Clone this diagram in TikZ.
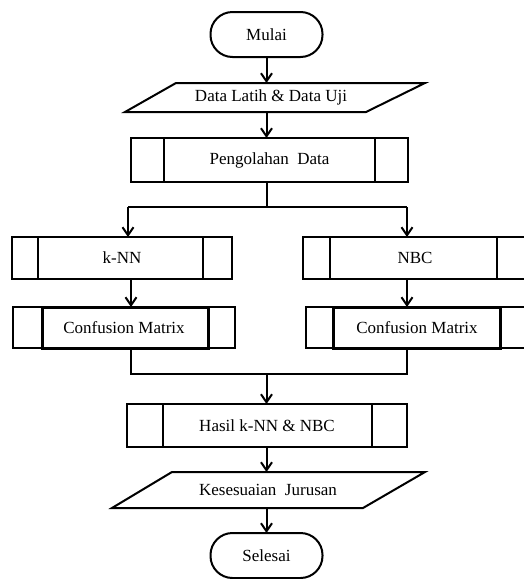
\documentclass[tikz,border=0pt]{standalone}
\usepackage{fontspec}
\setmainfont{Liberation Serif}
\usetikzlibrary{arrows.meta,calc}
\begin{document}
\begin{tikzpicture}[x=1pt,y=-1pt,
  lw/.style={line width=2pt},
  base/.style={lw, font=\fontsize{17}{20}\selectfont, inner sep=0pt, outer sep=0pt, align=center},
  term/.style={base, draw, rounded corners=22pt, minimum width=112pt, minimum height=45pt},
  iotext/.style={base, minimum height=#1},
  procbox/.style={base, draw},
  arr/.style={lw, -{Straight Barb[length=8pt,width=11pt]}}
  ]
\useasboundingbox (0,0) rectangle (524,579);
\clip (0,0) rectangle (524,579);

% nodes
\node[term] (mulai) at (266.5,34.5) {Mulai};
\node[iotext=29pt] (data) at (271,97.5) {Data Latih \& Data Uji};
\draw[lw] (176,83) -- (425,83) -- (366,112) -- (125,112) -- cycle;

\node[procbox, minimum width=277pt, minimum height=44pt] (peng) at (269.5,160) {Pengolahan\ \ Data};
\node[procbox, minimum width=220pt, minimum height=42pt] (knn) at (122,258) {k-NN};
\node[procbox, minimum width=224pt, minimum height=42pt] (nbc) at (415,258) {NBC};
\node[procbox, minimum width=222pt, minimum height=41pt] (cmA) at (124,327.5) {Confusion Matrix};
\node[procbox, minimum width=222pt, minimum height=41pt] (cmB) at (417,327.5) {Confusion Matrix};
\node[procbox, minimum width=280pt, minimum height=43pt] (hasil) at (267,425.5) {Hasil k-NN \& NBC};
\node[iotext=36pt] (kes) at (268,490) {Kesesuaian\ \ Jurusan};
\draw[lw] (172,472) -- (425,472) -- (363,508) -- (112,508) -- cycle;
\node[term] (selesai) at (266.5,555.5) {Selesai};

% inner lines of predefined-process boxes
\foreach \n/\lo/\ro in {peng/33/33, knn/26/29, nbc/27/30, hasil/36/35}{
  \draw[lw] ([xshift=\lo pt]\n.north west) -- ([xshift=\lo pt]\n.south west)
            ([xshift=-\ro pt]\n.north east) -- ([xshift=-\ro pt]\n.south east);
}
\foreach \n/\lo/\ro in {cmA/29/27, cmB/27/28}{
  \draw[line width=3pt] ([xshift=\lo pt]\n.north west) rectangle ([xshift=-\ro pt]\n.south east);
}

% junction coordinates
\coordinate (jl) at (128,207);
\coordinate (jr) at (407,207);
\coordinate (bl) at (131,374);
\coordinate (br) at (407,374);

% connectors
\draw[arr] (mulai.south) -- (mulai.south |- data.north);
\draw[arr] (mulai.south |- data.south) -- (mulai.south |- peng.north);
\draw[lw] (mulai.south |- peng.south) -- (mulai.south |- jl);
\draw[lw] (jl) -- (jr);
\draw[arr] (jl) -- (jl |- knn.north);
\draw[arr] (jr) -- (jr |- nbc.north);
\draw[arr] (bl |- knn.south) -- (bl |- cmA.north);
\draw[arr] (br |- nbc.south) -- (br |- cmB.north);
\draw[lw] (bl |- cmA.south) -- (bl) -- (br) -- (br |- cmB.south);
\draw[arr] (mulai.south |- bl) -- (mulai.south |- hasil.north);
\draw[arr] (mulai.south |- hasil.south) -- (mulai.south |- kes.north);
\draw[arr] (mulai.south |- kes.south) -- (selesai.north);
\end{tikzpicture}
\end{document}
